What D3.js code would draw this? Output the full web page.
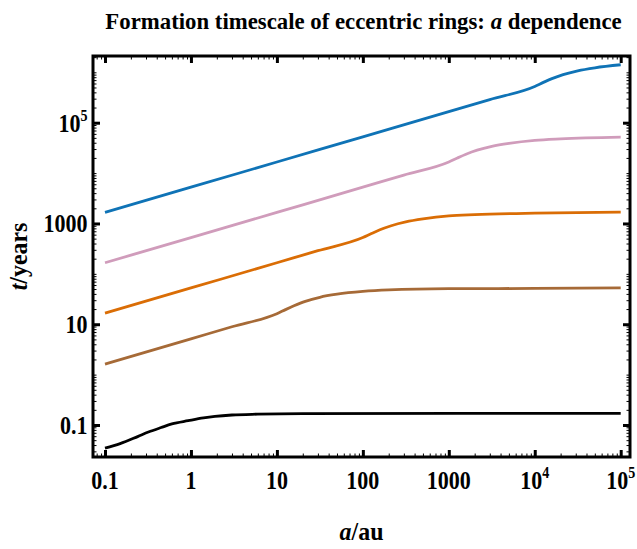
<!DOCTYPE html>
<html><head><meta charset="utf-8">
<script src="https://cdn.jsdelivr.net/npm/d3@7"></script>
<style>
body{margin:0;background:#fff}
text{font-family:"Liberation Serif","Times New Roman",serif;font-weight:bold;fill:#000}
</style>
</head><body>
<svg id="chart" width="637" height="549"></svg>
<script>
// ---- data ----
const seriesNames = ["blue", "pink", "orange", "brown", "black"];
const seriesColors = ["#0f73b6", "#d09cbb", "#da6d05", "#a66a37", "#000000"];

const blueA = [0.1, 1, 10, 100, 1000, 3000, 10000, 12600, 15850, 21380, 31620, 50120, 100000];
const blueT = [1660, 5250, 16600, 52500, 166000, 288000, 524800, 631000, 750000, 901600, 1072000, 1230000, 1413000];

const pinkA = [0.1, 1, 10, 100, 300, 1000, 1259, 1585, 2138, 3162, 5012, 10000, 19950, 100000];
const pinkT = [166, 525, 1660, 5250, 9120, 16600, 19950, 23710, 28510, 33880, 38900, 44670, 47860, 51880];

const orangeA = [0.1, 1, 10, 30, 100, 126, 158, 214, 316, 501, 1000, 2000, 10000, 100000];
const orangeT = [16.6, 52.5, 166, 288, 525, 631, 750, 902, 1072, 1230, 1413, 1496, 1603, 1679];

const brownA = [0.1, 1, 3, 10, 12.6, 15.8, 21.4, 31.6, 50.1, 100, 200, 1000, 10000, 100000];
const brownT = [1.62, 5.13, 8.91, 16.2, 19.5, 23.2, 28.5, 34.3, 39.4, 44.7, 47.9, 50.7, 51.3, 52.5];

const blackA = [0.1, 0.15, 0.24, 0.32, 0.45, 0.6, 0.93, 1.4, 1.9, 3, 6, 20, 100000];
const blackT = [0.0347, 0.0427, 0.0589, 0.0724, 0.0891, 0.105, 0.1216, 0.138, 0.148, 0.158, 0.164, 0.168, 0.170];

const xMajorTicks = [0.1, 1, 10, 100, 1000, 10000, 100000];
const xTickLabels = [["0.1"], ["1"], ["10"], ["100"], ["1000"], ["10", "4"], ["10", "5"]];
const yMajorTicks = [0.1, 10, 1000, 100000];
const yTickLabels = [["0.1"], ["10"], ["1000"], ["10", "5"]];

// ---- layout ----
const svg = d3.select("#chart");
const frame = {left: 93, right: 630, top: 56, bottom: 457};
const x = d3.scaleLog().domain([0.1, 1e5]).range([105, 620.7]);
const y = d3.scaleLog().domain([0.1, 1e5]).range([425, 122.7]);

const xDom = [x.invert(frame.left), x.invert(frame.right)];
const yDom = [y.invert(frame.bottom), y.invert(frame.top)];

function minorTicks(dom, majors) {
  const out = [];
  for (let e = -3; e <= 7; e++) {
    for (let k = 1; k <= 9; k++) {
      const v = k * Math.pow(10, e);
      if (v > dom[0] * 1.001 && v < dom[1] * 0.999 && !majors.some(m => Math.abs(m - v) / v < 1e-6)) out.push(v);
    }
  }
  return out;
}
const xMinor = minorTicks(xDom, xMajorTicks);
const yMinor = minorTicks(yDom, yMajorTicks);

// curves
const series = [
  {a: blueA, t: blueT},
  {a: pinkA, t: pinkT},
  {a: orangeA, t: orangeT},
  {a: brownA, t: brownT},
  {a: blackA, t: blackT}
];
const line = d3.line().x(d => x(d[0])).y(d => y(d[1])).curve(d3.curveMonotoneX);
svg.append("clipPath").attr("id", "clip").append("rect")
  .attr("x", frame.left).attr("y", frame.top)
  .attr("width", frame.right - frame.left).attr("height", frame.bottom - frame.top);
svg.append("g").attr("clip-path", "url(#clip)")
  .selectAll("path").data(series).join("path")
  .attr("d", s => line(s.a.map((a, i) => [a, s.t[i]])))
  .attr("fill", "none")
  .attr("stroke", (s, i) => seriesColors[i])
  .attr("stroke-width", 2.8)
  .attr("stroke-linejoin", "round");

// axes (ticks inward on all four sides)
function styleAxis(g, major) {
  g.select(".domain").remove();
  g.selectAll(".tick line").attr("stroke", "#000").attr("stroke-width", major ? 3 : 1);
  g.selectAll(".tick text").remove();
}
const axes = [
  {gen: d3.axisBottom, scale: x, pos: `translate(0,${frame.bottom})`},
  {gen: d3.axisTop, scale: x, pos: `translate(0,${frame.top})`},
  {gen: d3.axisLeft, scale: y, pos: `translate(${frame.left},0)`},
  {gen: d3.axisRight, scale: y, pos: `translate(${frame.right},0)`}
];
axes.forEach(ax => {
  const isX = ax.scale === x;
  svg.append("g").attr("transform", ax.pos)
    .call(ax.gen(ax.scale).tickValues(isX ? xMinor : yMinor).tickSize(-3.5).tickFormat(""))
    .call(g => styleAxis(g, false));
  svg.append("g").attr("transform", ax.pos)
    .call(ax.gen(ax.scale).tickValues(isX ? xMajorTicks : yMajorTicks).tickSize(-7).tickFormat(""))
    .call(g => styleAxis(g, true));
});

// frame
svg.append("rect")
  .attr("x", frame.left).attr("y", frame.top)
  .attr("width", frame.right - frame.left).attr("height", frame.bottom - frame.top)
  .attr("fill", "none").attr("stroke", "#000").attr("stroke-width", 3);

// tick labels
const SX = 0.88;
function addLabel(sel, parts) {
  sel.append("tspan").text(parts[0]);
  if (parts[1]) sel.append("tspan").attr("dy", -11).attr("font-size", 16).text(parts[1]);
}
svg.append("g").selectAll("g").data(xMajorTicks).join("g")
  .attr("transform", d => `translate(${x(d)},489) scale(${SX},1)`)
  .append("text")
  .attr("text-anchor", "middle")
  .attr("font-size", 25)
  .each(function(d, i) { addLabel(d3.select(this), xTickLabels[i]); });

svg.append("g").selectAll("g").data(yMajorTicks).join("g")
  .attr("transform", d => `translate(87.5,${y(d) + 9}) scale(${SX},1)`)
  .append("text")
  .attr("text-anchor", "end")
  .attr("font-size", 25)
  .each(function(d, i) { addLabel(d3.select(this), yTickLabels[i]); });

// title
const title = svg.append("g").attr("transform", "translate(363.5,29) scale(0.95,1)")
  .append("text").attr("text-anchor", "middle").attr("font-size", 24);
title.append("tspan").text("Formation timescale of eccentric rings: ");
title.append("tspan").attr("font-style", "italic").text("a");
title.append("tspan").text(" dependence");

// axis labels
const xl = svg.append("g").attr("transform", `translate(${(frame.left + frame.right) / 2},540) scale(0.92,1)`)
  .append("text").attr("text-anchor", "middle").attr("font-size", 26);
xl.append("tspan").attr("font-style", "italic").text("a");
xl.append("tspan").text("/au");

const yl = svg.append("g")
  .attr("transform", `translate(27,${(frame.top + frame.bottom) / 2}) rotate(-90) scale(0.92,1)`)
  .append("text").attr("text-anchor", "middle").attr("font-size", 26);
yl.append("tspan").attr("font-style", "italic").text("t");
yl.append("tspan").text("/years");
</script>
</body></html>
